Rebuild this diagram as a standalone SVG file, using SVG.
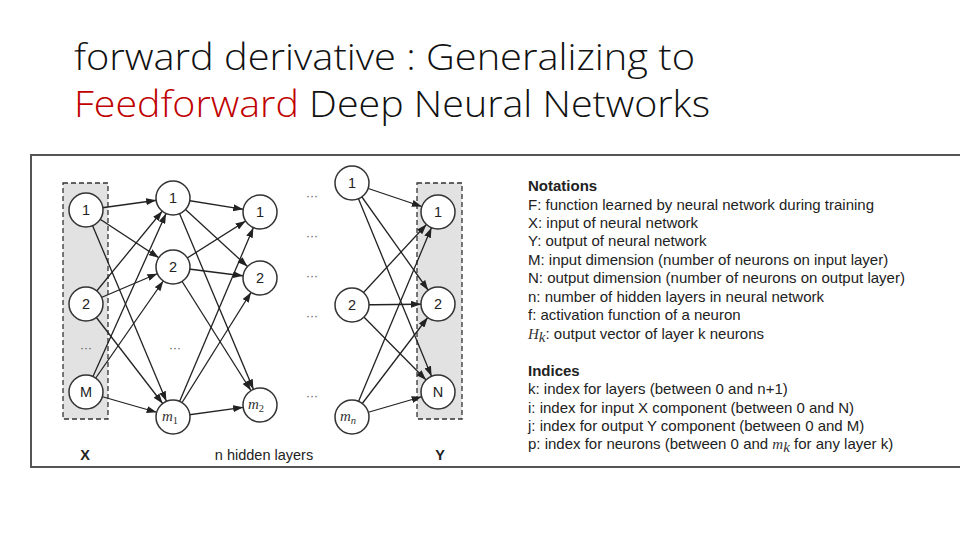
<svg xmlns="http://www.w3.org/2000/svg" width="960" height="540" viewBox="0 0 960 540">
<style>
.title{font-family:"Open Sans","Liberation Sans",sans-serif;font-weight:300;font-size:37px;fill:#111}
.red{fill:#c00000}
.node circle{fill:#fff;stroke:#333;stroke-width:1.5}
.lbl{font-family:"Liberation Sans",Arial,sans-serif;font-size:14.5px;fill:#222;text-anchor:middle}
.math{font-family:"Liberation Serif","DejaVu Serif",serif;font-style:italic;font-size:15px;fill:#333}
.sub{font-size:10.5px}
.dots{font-family:"Liberation Sans",sans-serif;font-size:12px;fill:#555;text-anchor:middle}
.edges line{stroke:#222;stroke-width:1.3;marker-end:url(#arr)}
.box{fill:#e2e2e2;stroke:#333;stroke-width:1.3;stroke-dasharray:5,3}
.note{font-family:"Liberation Sans",Arial,sans-serif;font-size:15px;fill:#222}
.hdr{font-weight:bold}
.axis{font-family:"Liberation Sans",Arial,sans-serif;font-size:14.5px;fill:#222;text-anchor:middle}
</style>
<defs>
<marker id="arr" markerUnits="userSpaceOnUse" markerWidth="10" markerHeight="7" refX="27" refY="3.5" orient="auto">
<path d="M0,0 L10,3.5 L0,7 z" fill="#222"/>
</marker>
</defs>
<rect width="960" height="540" fill="#fff"/>
<text class="title" x="74" y="70" textLength="621" lengthAdjust="spacingAndGlyphs">forward derivative : Generalizing to</text>
<text class="title" x="74" y="117" textLength="636" lengthAdjust="spacingAndGlyphs"><tspan class="red">Feedforward</tspan> Deep Neural Networks</text>
<path d="M962,155 L31,155 L31,467 L962,467" fill="none" stroke="#555" stroke-width="2"/>
<rect class="box" x="63" y="183" width="45" height="236"/>
<rect class="box" x="417" y="183" width="45" height="236"/>
<g class="edges" id="connectors">
<line x1="86" y1="210" x2="173" y2="198"/>
<line x1="86" y1="210" x2="173" y2="267"/>
<line x1="86" y1="210" x2="173" y2="417"/>
<line x1="86" y1="304" x2="173" y2="198"/>
<line x1="86" y1="304" x2="173" y2="267"/>
<line x1="86" y1="304" x2="173" y2="417"/>
<line x1="86" y1="392" x2="173" y2="198"/>
<line x1="86" y1="392" x2="173" y2="267"/>
<line x1="86" y1="392" x2="173" y2="417"/>
<line x1="173" y1="198" x2="260" y2="212"/>
<line x1="173" y1="198" x2="260" y2="278"/>
<line x1="173" y1="198" x2="260" y2="405"/>
<line x1="173" y1="267" x2="260" y2="212"/>
<line x1="173" y1="267" x2="260" y2="278"/>
<line x1="173" y1="267" x2="260" y2="405"/>
<line x1="173" y1="417" x2="260" y2="212"/>
<line x1="173" y1="417" x2="260" y2="278"/>
<line x1="173" y1="417" x2="260" y2="405"/>
<line x1="352" y1="183" x2="438" y2="212"/>
<line x1="352" y1="183" x2="438" y2="304"/>
<line x1="352" y1="183" x2="438" y2="392"/>
<line x1="352" y1="305" x2="438" y2="212"/>
<line x1="352" y1="305" x2="438" y2="304"/>
<line x1="352" y1="305" x2="438" y2="392"/>
<line x1="352" y1="417" x2="438" y2="212"/>
<line x1="352" y1="417" x2="438" y2="304"/>
<line x1="352" y1="417" x2="438" y2="392"/>
</g>
<g id="in1" class="node"><circle cx="86" cy="210" r="17"/><text class="lbl" x="86" y="215">1</text></g>
<g id="in2" class="node"><circle cx="86" cy="304" r="17"/><text class="lbl" x="86" y="309">2</text></g>
<g id="inM" class="node"><circle cx="86" cy="392" r="17"/><text class="lbl" x="86" y="397">M</text></g>
<g id="h1n1" class="node"><circle cx="173" cy="198" r="17"/><text class="lbl" x="173" y="203">1</text></g>
<g id="h1n2" class="node"><circle cx="173" cy="267" r="17"/><text class="lbl" x="173" y="272">2</text></g>
<g id="h1m" class="node"><circle cx="173" cy="417" r="17"/><text class="math" x="162" y="421">m<tspan class="sub" dy="3" font-style="normal">1</tspan></text></g>
<g id="h2n1" class="node"><circle cx="260" cy="212" r="17"/><text class="lbl" x="260" y="217">1</text></g>
<g id="h2n2" class="node"><circle cx="260" cy="278" r="17"/><text class="lbl" x="260" y="283">2</text></g>
<g id="h2m" class="node"><circle cx="260" cy="405" r="17"/><text class="math" x="248" y="409">m<tspan class="sub" dy="3" font-style="normal">2</tspan></text></g>
<g id="hnn1" class="node"><circle cx="352" cy="183" r="17"/><text class="lbl" x="352" y="188">1</text></g>
<g id="hnn2" class="node"><circle cx="352" cy="305" r="17"/><text class="lbl" x="352" y="310">2</text></g>
<g id="hnm" class="node"><circle cx="352" cy="417" r="17"/><text class="math" x="340" y="421">m<tspan class="sub" dy="3">n</tspan></text></g>
<g id="out1" class="node"><circle cx="438" cy="212" r="17"/><text class="lbl" x="438" y="217">1</text></g>
<g id="out2" class="node"><circle cx="438" cy="304" r="17"/><text class="lbl" x="438" y="309">2</text></g>
<g id="outN" class="node"><circle cx="438" cy="392" r="17"/><text class="lbl" x="438" y="397">N</text></g>
<text class="dots" x="86" y="352">···</text>
<text class="dots" x="175" y="352">···</text>
<text class="dots" x="312" y="200">···</text>
<text class="dots" x="312" y="240">···</text>
<text class="dots" x="312" y="280">···</text>
<text class="dots" x="312" y="320">···</text>
<text class="dots" x="312" y="400">···</text>
<text class="axis" x="85" y="460" font-weight="bold">X</text>
<text class="axis" x="264" y="460">n hidden layers</text>
<text class="axis" x="440" y="460" font-weight="bold">Y</text>
<g id="notes">
<text class="note hdr" x="528" y="191">Notations</text>
<text class="note" x="528" y="210">F: function learned by neural network during training</text>
<text class="note" x="528" y="228">X: input of neural network</text>
<text class="note" x="528" y="246">Y: output of neural network</text>
<text class="note" x="528" y="265">M: input dimension (number of neurons on input layer)</text>
<text class="note" x="528" y="283">N: output dimension (number of neurons on output layer)</text>
<text class="note" x="528" y="302">n: number of hidden layers in neural network</text>
<text class="note" x="528" y="320">f: activation function of a neuron</text>
<text class="note" x="528" y="339"><tspan class="math" font-size="16">H</tspan><tspan class="math" font-size="10.5" dy="3">k</tspan><tspan dy="-3">: output vector of layer k neurons</tspan></text>
<text class="note hdr" x="528" y="376">Indices</text>
<text class="note" x="528" y="394">k: index for layers (between 0 and n+1)</text>
<text class="note" x="528" y="413">i: index for input X component (between 0 and N)</text>
<text class="note" x="528" y="431">j: index for output Y component (between 0 and M)</text>
<text class="note" x="528" y="449">p: index for neurons (between 0 and <tspan class="math" font-size="16">m</tspan><tspan class="math" font-size="10.5" dy="3">k</tspan><tspan dy="-3"> for any layer k)</tspan></text>
</g>
</svg>
